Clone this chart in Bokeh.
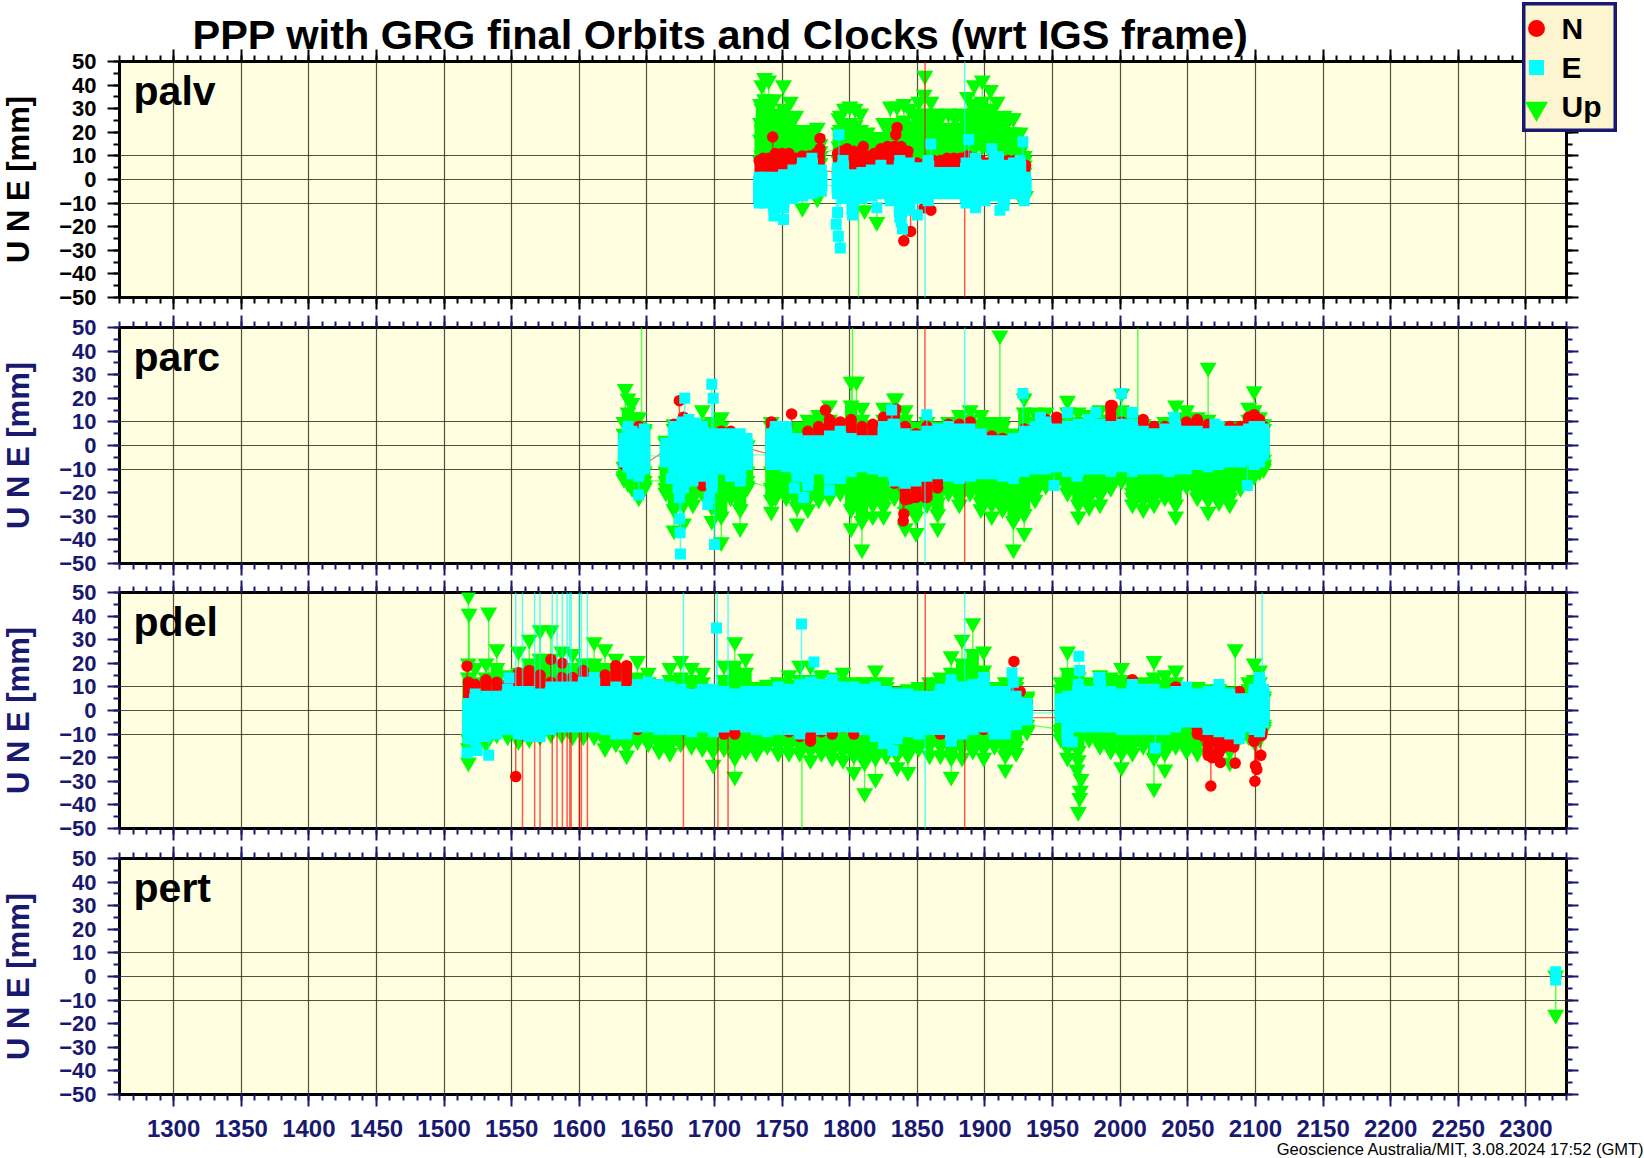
import math
from bokeh.plotting import figure
from bokeh.layouts import column
from bokeh.models import FixedTicker, LinearAxis, Range1d
from bokeh.core.properties import value
from bokeh.embed import file_html
from bokeh.resources import INLINE

TITLE = "PPP with GRG final Orbits and Clocks (wrt IGS frame)"
FOOTER = "Geoscience Australia/MIT, 3.08.2024 17:52 (GMT)"
STATIONS = ["palv", "parc", "pdel", "pert"]
YLABEL = "U N E [mm]"
X_MAJOR = list(range(1300, 2301, 50))
X_MINOR = list(range(1260, 2331, 10))
Y_MAJOR = list(range(-50, 51, 10))
Y_MINOR = list(range(-50, 51, 5))
Y_GRID = [-10, 0, 10]

# ---------- palv ----------
palv_n_days = [1733,1736,1740,1745,1750,1755,1760,1765,1770,1775,1778,
               1791,1794,1798,1803,1808,1813,1818,1823,1828,1833,1838,1843,
               1850,1857,1862,1867,1872,1877,1882,1887,1892,1897,1902,1907,1912,1917,1922,1926,1930]
palv_n_hi = [8,9,9,11,11,11,9,10,10,11,13, 11,12,13,12,11,10,11,13,14,14,14,12, 7,7,8,8,9,9,9,10,9,8,7,7,7,8,8,7,6]
palv_n_lo = [1,2,2,2,2,2,2,3,3,3,4, 3,3,2,0,1,3,3,3,3,3,-2,-5, 0,0,1,1,1,1,1,2,1,0,0,0,0,0,0,0,0]
palv_n_od = [1743,1778,1810,1834,1835,1838,1840,1845,1855,1855.7,1860,1885]
palv_n_ov = [18,17.4,14,19,22,-15,-26,-22,-12,150,-13,-150]

palv_e_days = [1733,1737,1744,1751,1758,1765,1772,1779,
               1791,1795,1802,1809,1816,1823,1830,1837,1844,1851,1858,1865,1872,1879,1886,1893,1900,1907,1914,1921,1926,1930]
palv_e_hi = [1,1,1,2,4,7,9,4, 5,8,2,3,4,6,4,8,7,5,8,3,3,3,7,9,6,9,6,7,8,1]
palv_e_m1 = [-2,-3,-2,-2,1,3,4,1, 1,3,-2,-1,0,2,0,3,2,1,3,0,0,0,2,4,2,4,2,2,3,-1]
palv_e_m2 = [-6,-6,-5,-5,-3,-1,-1,-2, -3,-2,-7,-4,-4,-2,-4,-3,-3,-3,-1,-3,-3,-3,-2,-1,-3,-1,-2,-2,-1,-3]
palv_e_lo = [-10,-10,-13,-12,-8,-7,-6,-5, -6,-8,-15,-8,-7,-6,-9,-16,-13,-8,-7,-6,-6,-6,-10,-12,-9,-7,-11,-6,-6,-5]
palv_e_od = [1744,1751,1790,1791,1791.5,1792,1793,1820,1838,1839,1850,1855.7,1858,1860,1885,1888,1905,1910,1911,1928,1929]
palv_e_ov = [-15.5,-17,-19,-14,-24,19,-29,-12,-18,-21,-15,-150,-9,15,150,17,13,9.6,-13,16,-9]

palv_u_days = [1734,1735,1737,1740,1744,1748,1751,1756,1760,1764,1768,1772,1776,1778,
               1792,1793,1796,1800,1804,1808,1813,1817,1820,1825,1830,1835,1840,1844,1847,1851,1855,1860,1864,1867,1873,1878,1882,1887,1892,1898,1904,1909,1914,1918,1921,1926,1929]
palv_u_hi = [32,40,43,42,34,28,40,33,27,21,19,21,22,15, 26,27,30,31,30,28,20,18,17,24,31,31,32,30,28,33,36,33,28,26,28,26,28,35,40,42,38,33,27,26,26,20,10]
palv_u_m1 = [24,30,34,33,26,22,30,25,20,16,15,16,17,12, 20,21,23,24,23,21,16,14,14,18,24,24,25,23,22,25,28,26,22,20,22,21,22,27,32,33,30,26,22,20,20,16,8]
palv_u_m2 = [17,21,24,24,19,16,22,18,15,12,12,12,13,10, 14,15,17,18,17,16,12,11,11,14,17,18,18,17,16,18,20,19,17,15,16,16,17,20,24,25,22,19,17,15,15,12,6]
palv_u_lo = [8,10,12,12,10,9,11,10,9,8,8,8,9,7, 8,9,9,10,9,9,8,7,7,8,9,10,10,9,9,10,11,10,9,9,9,9,9,11,13,14,12,11,9,9,9,8,3]
palv_u_od = [1765,1776,1806.5,1811,1820,1855.5,1926,1930]
palv_u_ov = [-12,-8,-150,-13,-18,44,-7,-7]

# ---------- parc ----------
parc_days = [1633,1636,1639,1644,1648,1664,1670,1677,1684,1691,1698,1705,1712,1719,1724,
             1742,1745,1753,1761,1769,1777,1785,1793,1801,1809,1817,1825,1833,1841,1849,
             1857,1865,1873,1881,1889,1897,1905,1913,1921,1929,1937,1945,1953,1961,1969,
             1977,1985,1993,2001,2009,2017,2025,2033,2041,2049,2057,2065,2073,2081,2089,
             2095,2099,2103,2106]
parc_e_hi = [3,8,6,5,7,1,8,8,9,8,5,5,5,5,3,
             5,8,8,3,2,2,4,6,3,2,2,8,9,5,4,
             6,7,8,7,7,5,2,2,3,6,8,10,7,8,9,
             8,9,8,9,9,6,5,7,8,6,6,5,8,6,6,
             7,8,8,7]
parc_e_m1 = [0,3,2,1,3,-2,4,4,4,4,1,1,1,1,0,
             1,4,3,-1,-2,-2,0,2,-1,-2,-2,4,5,1,0,
             2,3,4,3,3,1,-2,-2,-1,2,3,5,3,4,4,
             4,4,4,4,4,2,1,3,4,2,2,1,4,2,2,
             3,4,4,3]
parc_e_m2 = [-3,-3,-4,-5,-4,-5,-3,-4,-4,-4,-5,-4,-4,-4,-4,
             -4,-3,-4,-6,-7,-5,-6,-6,-5,-4,-5,-5,-6,-6,-6,
             -5,-5,-5,-6,-5,-5,-5,-6,-6,-5,-5,-4,-4,-5,-5,
             -4,-4,-5,-4,-5,-4,-4,-4,-4,-4,-3,-4,-3,-3,-3,
             -2,-3,-3,-1]
parc_e_lo = [-7,-9,-12,-13,-10,-7,-10,-18,-15,-13,-18,-10,-13,-15,-8,
             -8,-8,-9,-13,-17,-10,-14,-14,-11,-9,-10,-11,-15,-16,-15,
             -13,-12,-13,-14,-13,-12,-12,-13,-14,-11,-10,-10,-9,-11,-11,
             -10,-10,-11,-9,-11,-10,-10,-10,-10,-10,-8,-9,-8,-7,-7,
             -6,-8,-7,-4]
parc_e_od = [1644,1668,1673,1674,1674.2,1674.5,1674.8,1676,1678,1681,1686,1696,1695,1698,1699,1700,1743,1759,1766,1785,1831,1832,1855.6,1857,1885,
             1928,1941,1951,1961,1968,1977,1982,2001,2009,2013,2036,2040,2070,2094]
parc_e_ov = [-21,-14,-18,-22,-31,-37,-46,10,20,11,9.5,-22,-25,26,20,-42,-3,-18,-22,-19,15,9,-150,13,150,
             22,12,-17,14,-13,11,14,22,14,-6,-11,12,9,-17]

parc_n_hi = [2,3,4,8,3,-1,9,12,8,5,5,6,6,3,1,
             10,7,7,3,6,8,11,10,11,8,9,12,14,8,5,
             8,6,9,9,10,5,4,3,3,7,8,11,12,8,9,
             9,9,17,10,8,11,8,8,5,10,11,9,7,8,8,
             12,13,11,8]
parc_n_lo = [-8,-9,-5,-8,-8,-2,-7,-6,-4,-17,-11,-3,-2,1,-1,
             -4,-5,-5,-5,-5,-5,-5,-5,-5,-5,-5,-5,-16,-23,-22,
             -22,-18,-5,-5,-9,-9,-5,-5,-8,-9,-5,-5,-5,-5,-5,
             -5,-5,-5,-5,-5,-5,-5,-5,-4,-5,-5,-5,-5,-6,-5,
             -2,-3,-3,-1]
parc_n_od = [1674,1757,1782,1834,1839.5,1840,1844,1855.6,1856,1885,1994]
parc_n_ov = [19,13.4,15,15.5,-32,-29,-22.6,150,-22,-150,17]

parc_u_hi = [10,20,18,12,7,2,9,9,9,15,10,12,4,3,0,
             10,7,6,8,11,13,17,9,27,16,6,16,20,15,8,
             10,8,10,13,15,13,10,10,5,20,14,14,8,19,14,
             13,15,11,22,11,9,7,10,17,15,12,33,8,8,7,
             16,23,12,9]
parc_u_up = [5,14,12,8,6,1,7,7,7,9,7,8,3,2,0,
             8,6,5,7,8,10,11,8,17,11,5,11,13,11,7,
             8,7,8,10,11,9,8,8,5,14,10,10,7,14,10,
             10,11,9,15,9,8,6,8,12,11,9,11,7,7,6,
             11,15,9,7]
parc_u_l1 = [-9,-10,-11,-12,-11,-11,-12,-12,-13,-12,-13,-12,-11,-12,-11,
             -11,-11,-12,-13,-13,-12,-13,-13,-13,-13,-13,-13,-13,-14,-14,
             -13,-13,-13,-14,-13,-13,-13,-14,-14,-13,-12,-11,-11,-12,-12,
             -12,-12,-12,-11,-12,-12,-12,-12,-12,-11,-11,-12,-11,-12,-11,
             -8,-9,-8,-6]
parc_u_l2 = [-13,-13,-14,-16,-15,-15,-20,-18,-18,-16,-20,-22,-16,-20,-15,
             -18,-16,-17,-20,-19,-16,-17,-16,-20,-24,-20,-22,-18,-22,-24,
             -20,-24,-16,-18,-16,-20,-20,-20,-24,-22,-18,-14,-14,-16,-20,
             -19,-18,-15,-14,-20,-20,-19,-17,-20,-14,-18,-19,-18,-19,-15,
             -11,-11,-10,-8]
parc_u_lm = [-14,-15,-16,-19,-17,-18,-27,-25,-22,-18,-26,-30,-19,-27,-17,
             -23,-19,-20,-26,-23,-20,-20,-18,-27,-32,-25,-26,-20,-28,-30,
             -22,-29,-18,-22,-18,-24,-25,-24,-32,-29,-20,-15,-14,-18,-25,
             -22,-21,-16,-14,-22,-23,-22,-20,-25,-15,-20,-23,-21,-22,-16,
             -12,-12,-10,-9]
parc_u_l3 = [-14,-16,-18,-22,-18,-20,-36,-33,-25,-20,-32,-41,-22,-35,-18,
             -28,-22,-22,-33,-27,-23,-22,-20,-35,-44,-30,-30,-22,-35,-37,
             -25,-35,-20,-25,-20,-27,-30,-27,-44,-37,-23,-17,-15,-20,-30,
             -26,-25,-18,-15,-25,-27,-25,-22,-30,-17,-22,-28,-24,-25,-18,
             -13,-13,-11,-10]
parc_u_od = [1634,1646,1802,1805,1834,1911,2013]
parc_u_ov = [24,150,150,27,20,46.6,150]

# ---------- pdel ----------
pdel_days = [1518,1523,1531,1539,1547,1555,1563,1571,1579,1587,1595,1603,1611,1619,1627,1635,1643,1651,1659,1667,
             1675,1683,1691,1699,1707,1715,1723,1731,1739,1747,1755,1763,1771,1779,1787,1795,1803,1811,1819,1827,
             1835,1843,1851,1859,1867,1875,1883,1891,1899,1907,1915,1923,1931,
             1956,1961,1969,1977,1985,1993,2001,2009,2017,2025,2033,2041,2049,2057,2065,2073,2081,2088,
             2095,2099,2103,2106]
pdel_e_hi = [3,7,6,6,9,8,8,7,10,10,10,12,14,8,10,8,11,12,11,10,
             9,7,9,9,8,7,8,8,8,10,9,11,12,11,13,10,10,9,10,8,
             7,7,6,6,9,13,10,11,14,8,8,6,3,
             5,6,11,8,14,8,7,11,9,9,7,8,10,7,8,11,7,5,
             5,9,14,9]
pdel_e_m1 = [0,3,3,3,5,4,4,4,5,6,6,6,7,4,5,4,5,6,5,5,
             5,3,4,4,4,4,4,4,4,5,5,5,6,6,6,5,5,5,5,4,
             4,4,3,3,5,6,5,5,6,4,4,3,1,
             2,3,5,4,6,4,4,5,5,5,4,4,5,4,4,5,4,2,
             2,5,7,4]
pdel_e_m2 = [-4,-4,-3,-3,-2,-3,-3,-3,-2,-1,-1,-1,-1,-2,-3,-3,-2,-1,-2,-2,
             -2,-3,-2,-3,-2,-2,-2,-3,-3,-2,-2,-3,-1,-2,-1,-1,-1,-2,-3,-4,
             -3,-3,-3,-2,-2,-3,-3,-2,-1,-3,-3,-2,-1,
             -1,-4,-2,-2,-2,-2,-3,-2,-2,-3,-2,-2,-1,-1,-2,-3,-3,-4,
             -2,-2,-2,-1]
pdel_e_lo = [-12,-13,-11,-10,-8,-10,-11,-11,-8,-7,-7,-7,-7,-8,-10,-10,-7,-7,-8,-8,
             -8,-9,-7,-9,-7,-6,-7,-8,-9,-8,-8,-10,-7,-8,-7,-7,-7,-8,-11,-14,
             -12,-9,-10,-8,-8,-13,-10,-8,-7,-10,-10,-6,-4,
             -3,-13,-7,-7,-7,-7,-8,-8,-8,-8,-8,-7,-5,-5,-8,-9,-10,-12,
             -7,-8,-9,-5]
pdel_e_od = [1517,1524.5,1533,1548,1553,1558,1558.5,1567,1571,1580,1583.5,1587.5,1591,1593,1594,1600,1601.5,1606,
             1677,1701.5,1702,1710,1764.3,1773.5,1825,1832,1855.8,1885,1920,1921,1964.5,1969.4,1970,1984,2026,2105]
pdel_e_ov = [-18,-17,-19,13.8,150,150,-10,150,150,150,150,150,150,150,150,150,150,150,
             150,35,150,150,36.7,20.5,-14,-17,-150,150,16,12,-13.4,23,17,14,-16,150]

pdel_n_hi = [12,11,13,12,11,16,17,15,12,14,14,17,14,15,19,19,9,4,4,4,
             5,7,8,4,3,4,5,5,4,5,5,5,8,5,4,5,5,5,5,5,
             5,6,5,6,5,9,8,5,6,6,8,8,2,
             3,5,6,5,6,5,5,13,6,8,5,10,6,5,6,5,5,8,
             2,5,7,3]
pdel_n_lo = [-5,-6,-5,-5,-6,-5,-5,-5,-5,-5,-5,-5,-5,-5,-5,-5,-8,-5,-5,-5,
             -5,-5,-5,-5,-10,-10,-5,-5,-5,-8,-9,-11,-13,-9,-10,-7,-10,-6,-5,-5,
             -5,-5,-6,-6,-10,-6,-5,-5,-8,-5,-5,-5,-3,
             -3,-5,-5,-5,-5,-5,-5,-5,-5,-5,-5,-5,-5,-10,-19,-18,-14,-12,
             -7,-13,-10,-5]
pdel_n_od = [1517,1553,1558,1567,1571,1579,1580,1583.5,1587.4,1587.5,1591,1593,1594,1600,1601.5,1606,1677,1702.5,1710,1855.8,
             1885,1921.4,1926,2060.7,2067,2068,2070.5,2072,2074,2075,2078,2080,2084,2085,2096,2099,2099.6,2100,2101,2104,2104.5,2105]
pdel_n_ov = [18.8,-28,-150,-150,-150,21.6,-150,-150,20,-150,-150,-150,-150,-150,-150,-150,-150,-150,-150,150,
             -150,20.8,8,-10.6,-32,-20,-13.4,-18,-22,-16,-14,-15,-15.4,-22.3,-7,-13,-30,-23.4,-25,-19,-10.6,-9]

pdel_u_hi = [20,18,20,26,15,25,30,34,34,25,24,20,29,26,22,10,21,16,11,18,
             21,18,16,9,19,29,22,10,11,12,15,19,19,15,14,16,12,12,17,12,
             8,9,10,12,14,23,30,37,25,10,12,12,6,
             12,25,14,12,15,14,18,10,12,21,15,17,10,10,9,9,8,7,
             12,20,17,6]
pdel_u_up = [14,12,14,18,11,16,20,22,22,18,18,15,20,18,16,8,14,12,9,13,
             14,13,12,8,13,19,16,9,9,10,11,13,13,11,11,12,10,10,12,10,
             7,8,8,10,11,16,20,24,17,8,10,10,5,
             9,16,11,10,11,11,13,9,10,14,11,12,9,9,8,8,7,6,
             9,13,12,5]
pdel_u_l1 = [-12,-11,-11,-9,-9,-10,-10,-9,-8,-8,-9,-9,-9,-11,-10,-12,-10,-10,-11,-11,
             -11,-11,-11,-11,-10,-12,-12,-13,-12,-12,-12,-13,-13,-12,-13,-13,-13,-13,-13,-13,
             -14,-13,-12,-12,-12,-13,-12,-11,-12,-11,-13,-11,-6,
             -8,-12,-12,-10,-11,-11,-12,-11,-11,-12,-11,-11,-10,-11,-11,-10,-12,-9,
             -8,-9,-9,-6]
pdel_u_l2 = [-16,-12,-12,-10,-10,-11,-11,-10,-9,-9,-10,-10,-10,-13,-12,-15,-12,-12,-14,-15,
             -13,-13,-14,-17,-13,-20,-15,-16,-14,-15,-15,-15,-17,-15,-17,-17,-19,-22,-20,-16,
             -19,-19,-14,-15,-15,-20,-16,-14,-16,-13,-19,-15,-8,
             -10,-16,-17,-11,-13,-14,-18,-15,-13,-20,-18,-13,-14,-15,-13,-13,-17,-10,
             -10,-11,-11,-7]
pdel_u_l3 = [-22,-14,-14,-10,-11,-13,-12,-11,-10,-10,-11,-11,-11,-16,-14,-19,-13,-14,-17,-18,
             -14,-15,-16,-23,-16,-28,-17,-18,-15,-18,-18,-18,-21,-18,-20,-21,-26,-35,-29,-19,
             -24,-26,-16,-19,-19,-28,-20,-17,-20,-15,-25,-18,-9,
             -12,-20,-21,-12,-15,-17,-24,-18,-15,-33,-25,-15,-17,-18,-15,-15,-22,-11,
             -11,-13,-12,-8]
pdel_u_od = [1518,1518.5,1533,1764.6,1968,1969,1970,1970.5,1971,2085]
pdel_u_ov = [48.7,41,41.6,-150,-25,-43,-37,-34,-29,26]

# ---------- pert ----------
pert_days = [2322]
pert_n_vals = [0.5]
pert_n_low = [-0.5]
pert_e_vals = [2]
pert_e_low = [-1.5]
pert_u_vals = [0.5]
pert_u_low = [-16.2]

FRAME_W, FRAME_H = 1447, 236
NAVY = "#191970"
PANEL_BG = "#FFFEE0"
FONT = "Liberation Sans"
GREEN, RED, CYAN = "#00FF00", "#FF0000", "#00FFFF"


def series(days, rows, od=(), ov=()):
    """Scatter points, one vertical whisker per day, and a line through the middle row."""
    mid = rows[len(rows) // 2]
    xs, ys, sx, s0, s1 = [], [], [], [], []
    for i, d in enumerate(days):
        vals = [r[i] for r in rows]
        xs += [d] * len(vals)
        ys += vals
        sx.append(d)
        s0.append(min(vals))
        s1.append(max(vals))
    for d, v in zip(od, ov):
        sx.append(d)
        s0.append(0)
        s1.append(v)
        if abs(v) < 100:
            xs.append(d)
            ys.append(v)
    return dict(x=xs, y=ys, sx=sx, s0=s0, s1=s1, lx=list(days), ly=list(mid))


def style_axis(ax, color, labels):
    ax.axis_line_color = None
    ax.major_tick_in = 0
    ax.minor_tick_in = 0
    ax.major_tick_out = 12
    ax.minor_tick_out = 6
    ax.major_tick_line_color = color
    ax.minor_tick_line_color = color
    ax.major_tick_line_width = 2
    ax.minor_tick_line_width = 2
    if labels:
        ax.major_label_text_color = color
        ax.major_label_text_font = FONT
        ax.major_label_text_font_style = "bold"
    else:
        ax.major_label_text_font_size = "0px"
        ax.major_label_text_color = None
        ax.major_label_standoff = 0


def panel(name, n, e, u, bars, color, top, bottom, with_x):
    p = figure(width=1644, height=top + FRAME_H + bottom, output_backend="svg", toolbar_location=None,
               x_range=Range1d(1260, 2330), y_range=Range1d(-50, 50),
               frame_width=FRAME_W, frame_height=FRAME_H,
               min_border_left=119, min_border_right=78, min_border_top=top, min_border_bottom=bottom,
               background_fill_color=PANEL_BG, border_fill_color="white")
    xt = FixedTicker(ticks=X_MAJOR, minor_ticks=X_MINOR)
    yt = FixedTicker(ticks=Y_MAJOR, minor_ticks=Y_MINOR)
    p.xaxis[0].ticker = xt
    p.yaxis[0].ticker = yt
    style_axis(p.xaxis[0], color, with_x)
    style_axis(p.yaxis[0], color, True)
    p.xaxis[0].major_label_text_font_size = "24px" if with_x else "0px"
    p.xaxis[0].major_label_standoff = 13
    p.yaxis[0].major_label_text_font_size = "22px"
    p.yaxis[0].major_label_standoff = 11
    p.yaxis[0].major_label_overrides = {v: str(v).replace("-", "\u2212") for v in Y_MAJOR}
    top_ax = LinearAxis(ticker=xt)
    right_ax = LinearAxis(ticker=yt)
    style_axis(top_ax, color, False)
    style_axis(right_ax, color, False)
    p.add_layout(top_ax, "above")
    p.add_layout(right_ax, "right")

    p.xgrid[0].ticker = FixedTicker(ticks=X_MAJOR)
    p.ygrid[0].ticker = FixedTicker(ticks=Y_GRID)
    for g in (p.xgrid[0], p.ygrid[0]):
        g.grid_line_color = "#333322"
        g.grid_line_width = 1.2
        g.grid_line_alpha = 0.85

    p.outline_line_color = "black"
    p.outline_line_width = 3

    for (s, col, mk, sz), bar in zip([(u, GREEN, "inverted_triangle", 17), (n, RED, "circle", 11.5),
                                      (e, CYAN, "square", 11)], bars):
        if bar:
            p.vbar(x=bar[0], bottom=bar[1], top=bar[2], width=bar[3], fill_color=col, line_color=None)
        p.line(s["lx"], s["ly"], line_color=col, line_width=1.2, line_alpha=0.6)
        p.segment(s["sx"], s["s0"], s["sx"], s["s1"], line_color=col, line_width=1.5, line_alpha=0.65)
        p.scatter(s["x"], s["y"], marker=mk, size=sz, fill_color=col, line_color=None)

    p.text([1270.4], [37.4], text=[name], text_font=value(FONT), text_font_style="bold",
           text_font_size="41px", text_color="black", text_baseline="middle")
    return p


p1 = panel("palv",
           series(palv_n_days, [palv_n_hi, palv_n_lo], palv_n_od, palv_n_ov),
           series(palv_e_days, [palv_e_hi, palv_e_m1, palv_e_m2, palv_e_lo], palv_e_od, palv_e_ov),
           series(palv_u_days, [palv_u_hi, palv_u_m1, palv_u_m2, palv_u_lo], palv_u_od, palv_u_ov),
           [(palv_u_days, palv_u_lo, palv_u_m1, 9), (palv_n_days, palv_n_lo, palv_n_hi, 7),
            (palv_e_days, palv_e_lo, palv_e_hi, 9)],
           "black", 61, 15, False)
p2 = panel("parc",
           series(parc_days, [parc_n_hi, parc_n_lo], parc_n_od, parc_n_ov),
           series(parc_days, [parc_e_hi, parc_e_m1, parc_e_m2, parc_e_lo], parc_e_od, parc_e_ov),
           series(parc_days, [parc_u_hi, parc_u_up, parc_u_l1, parc_u_l2, parc_u_lm, parc_u_l3], parc_u_od, parc_u_ov),
           [(parc_days, parc_u_lm, parc_u_up, 9), (parc_days, parc_n_lo, parc_n_hi, 8),
            (parc_days, parc_e_lo, parc_e_hi, 9)],
           NAVY, 15, 14, False)
p3 = panel("pdel",
           series(pdel_days, [pdel_n_hi, pdel_n_lo], pdel_n_od, pdel_n_ov),
           series(pdel_days, [pdel_e_hi, pdel_e_m1, pdel_e_m2, pdel_e_lo], pdel_e_od, pdel_e_ov),
           series(pdel_days, [pdel_u_hi, pdel_u_up, pdel_u_l1, pdel_u_l2, pdel_u_l3], pdel_u_od, pdel_u_ov),
           [(pdel_days, pdel_u_l2, pdel_u_up, 9), (pdel_days, pdel_n_lo, pdel_n_hi, 8),
            (pdel_days, pdel_e_lo, pdel_e_hi, 9)],
           NAVY, 15, 15, False)
p4 = panel("pert",
           series(pert_days, [pert_n_vals, pert_n_low]),
           series(pert_days, [pert_e_vals, pert_e_low]),
           series(pert_days, [pert_u_vals, pert_u_low]),
           [None, None, None],
           NAVY, 15, 64, True)


def overlay(w, h, left, top, bg=None):
    kw = dict(background_fill_color=bg, border_fill_color=bg) if bg else \
        dict(background_fill_alpha=0, border_fill_alpha=0)
    f = figure(width=w, height=h, output_backend="svg", toolbar_location=None,
               x_range=Range1d(0, w), y_range=Range1d(h, 0), x_axis_type=None, y_axis_type=None,
               frame_width=w, frame_height=h,
               min_border_left=0, min_border_right=0, min_border_top=0, min_border_bottom=0, **kw)
    f.grid.visible = False
    f.outline_line_color = None
    box = column(f, width=w, height=h, spacing=0,
                 styles={"position": "absolute", "left": f"{left}px", "top": f"{top}px", "z-index": "10"})
    return f, box


title_fig, title_box = overlay(1100, 58, 192, 2)
title_fig.text([0], [31.5], text=[TITLE], text_font=value(FONT), text_font_style="bold",
               text_font_size="41.5px", text_color="black", text_baseline="middle")

boxes = [title_box]
for top, col in [(61, "black"), (327, NAVY), (592, NAVY), (858, NAVY)]:
    yl, ybox = overlay(38, 236, 0, top)
    yl.text([18], [118], text=[YLABEL], angle=math.pi / 2, text_font=value(FONT), text_font_style="bold",
            text_font_size="31px", text_color=col, text_align="center", text_baseline="middle")
    boxes.append(ybox)

foot, foot_box = overlay(372, 20, 1272, 1138)
foot.text([372], [10.5], text=[FOOTER], text_font=value(FONT), text_font_size="16.5px",
          text_color="black", text_align="right", text_baseline="middle")

leg, leg_box = overlay(95, 130, 1522, 2, "#FDF5D0")
leg.outline_line_color = NAVY
leg.outline_line_width = 6
leg.scatter([14], [26], marker="circle", size=17, fill_color=RED, line_color=None)
leg.scatter([14], [65], marker="square", size=15, fill_color=CYAN, line_color=None)
leg.scatter([14], [106], marker="inverted_triangle", size=23, fill_color=GREEN, line_color=None)
leg.text([39, 39, 39], [26, 65, 104], text=["N", "E", "Up"], text_font_size="30px",
         text_font=value(FONT), text_font_style="bold", text_color="black", text_baseline="middle")

page = column(p1, p2, p3, p4, *boxes, foot_box, leg_box, spacing=0,
              styles={"position": "absolute", "left": "0px", "top": "0px"})
open("out.html", "w").write(file_html(page, INLINE))
